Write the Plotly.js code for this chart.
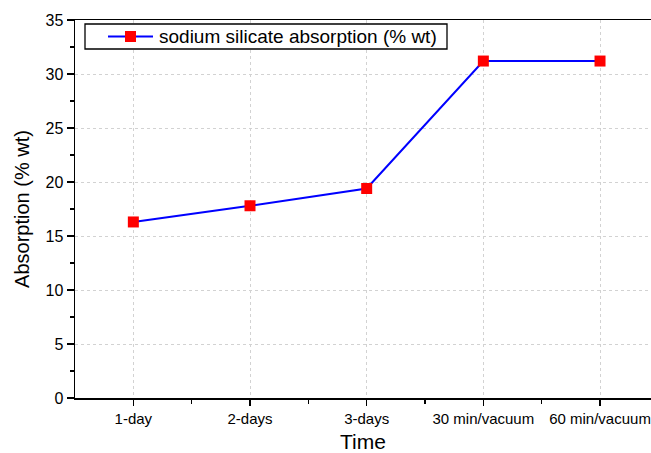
<!DOCTYPE html>
<html>
<head>
<meta charset="utf-8">
<script src="https://cdn.plot.ly/plotly-3.0.1.min.js"></script>
<style>
  html, body { margin: 0; padding: 0; background: #fff; }
  #chart { width: 651px; height: 453px; }
</style>
</head>
<body>
<div id="chart"></div>
<script>
// Absorption of sodium silicate over curing time / vacuum treatment
const categories = ['1-day', '2-days', '3-days', '30 min/vacuum', '60 min/vacuum'];
const absorption = [16.3, 17.8, 19.4, 31.2, 31.2];
const yTickValues = [0, 5, 10, 15, 20, 25, 30, 35];
const seriesName = 'sodium silicate absorption (% wt)';

const xIndex = categories.map((_, i) => i);

const LINE_COLOR = '#0000ff';
const MARKER_COLOR = '#ff0000';

const W = 651, H = 453;
const M = { l: 75, r: 0, t: 20, b: 55 };
const plotW = W - M.l - M.r, plotH = H - M.t - M.b;
// pixel -> plot-area paper fraction (for the framed legend drawn as shapes)
const px = v => (v - M.l) / plotW;
const py = v => 1 - (v - M.t) / plotH;

const trace = {
  x: xIndex,
  y: absorption,
  type: 'scatter',
  mode: 'lines+markers',
  name: seriesName,
  showlegend: false,
  line: { color: LINE_COLOR, width: 2 },
  marker: { symbol: 'square', color: MARKER_COLOR, size: 11, line: { width: 0 } }
};

const gridStyle = { gridcolor: '#d2d2d2', griddash: '3px,3px', gridwidth: 1 };

// Framed legend: box, line sample, square marker sample, and label
const legendY = 36.5;
const shapes = [
  { type: 'rect', xref: 'paper', yref: 'paper', x0: px(85), x1: px(447), y0: py(24), y1: py(49),
    line: { color: '#000', width: 1.3 }, fillcolor: '#fff', layer: 'above' },
  { type: 'line', xref: 'paper', yref: 'paper', x0: px(108), x1: px(153), y0: py(legendY), y1: py(legendY),
    line: { color: LINE_COLOR, width: 2 }, layer: 'above' },
  { type: 'rect', xref: 'paper', yref: 'paper', x0: px(125), x1: px(136), y0: py(legendY - 5.5), y1: py(legendY + 5.5),
    line: { width: 0 }, fillcolor: MARKER_COLOR, layer: 'above' }
];

const layout = {
  width: W,
  height: H,
  margin: M,
  paper_bgcolor: '#ffffff',
  plot_bgcolor: '#ffffff',
  font: { family: 'Liberation Sans, Arial, sans-serif', color: '#000' },
  showlegend: false,
  shapes: shapes,
  annotations: [
    { xref: 'paper', yref: 'paper', x: px(157), y: py(legendY), xanchor: 'left', yanchor: 'middle',
      text: seriesName, showarrow: false, font: { size: 19 } }
  ],
  xaxis: Object.assign({
    range: [-0.5, 4.437],
    tickmode: 'array',
    tickvals: xIndex,
    ticktext: categories,
    ticks: 'outside', ticklen: 6, tickwidth: 1.5, tickcolor: '#000',
    minor: { tickmode: 'array', tickvals: [0.5, 1.5, 2.5, 3.5], ticks: 'outside', ticklen: 4, tickwidth: 1.5, tickcolor: '#000', showgrid: false },
    showline: true, linecolor: '#000', linewidth: 1.5, mirror: true,
    showgrid: true, zeroline: false,
    tickfont: { size: 15 },
    title: { text: 'Time', font: { size: 21 }, standoff: 11 }
  }, gridStyle),
  yaxis: Object.assign({
    range: [0, 35],
    tickmode: 'array',
    tickvals: yTickValues,
    ticks: 'outside', ticklen: 7, tickwidth: 1.5, tickcolor: '#000',
    minor: { dtick: 2.5, ticks: 'outside', ticklen: 4, tickwidth: 1.5, tickcolor: '#000', showgrid: false },
    showline: true, linecolor: '#000', linewidth: 1.5, mirror: true,
    showgrid: true, zeroline: false,
    tickfont: { size: 16 },
    title: { text: 'Absorption (% wt)', font: { size: 20 }, standoff: 10 }
  }, gridStyle)
};

Plotly.newPlot('chart', [trace], layout, { displayModeBar: false, staticPlot: true });
</script>
</body>
</html>
